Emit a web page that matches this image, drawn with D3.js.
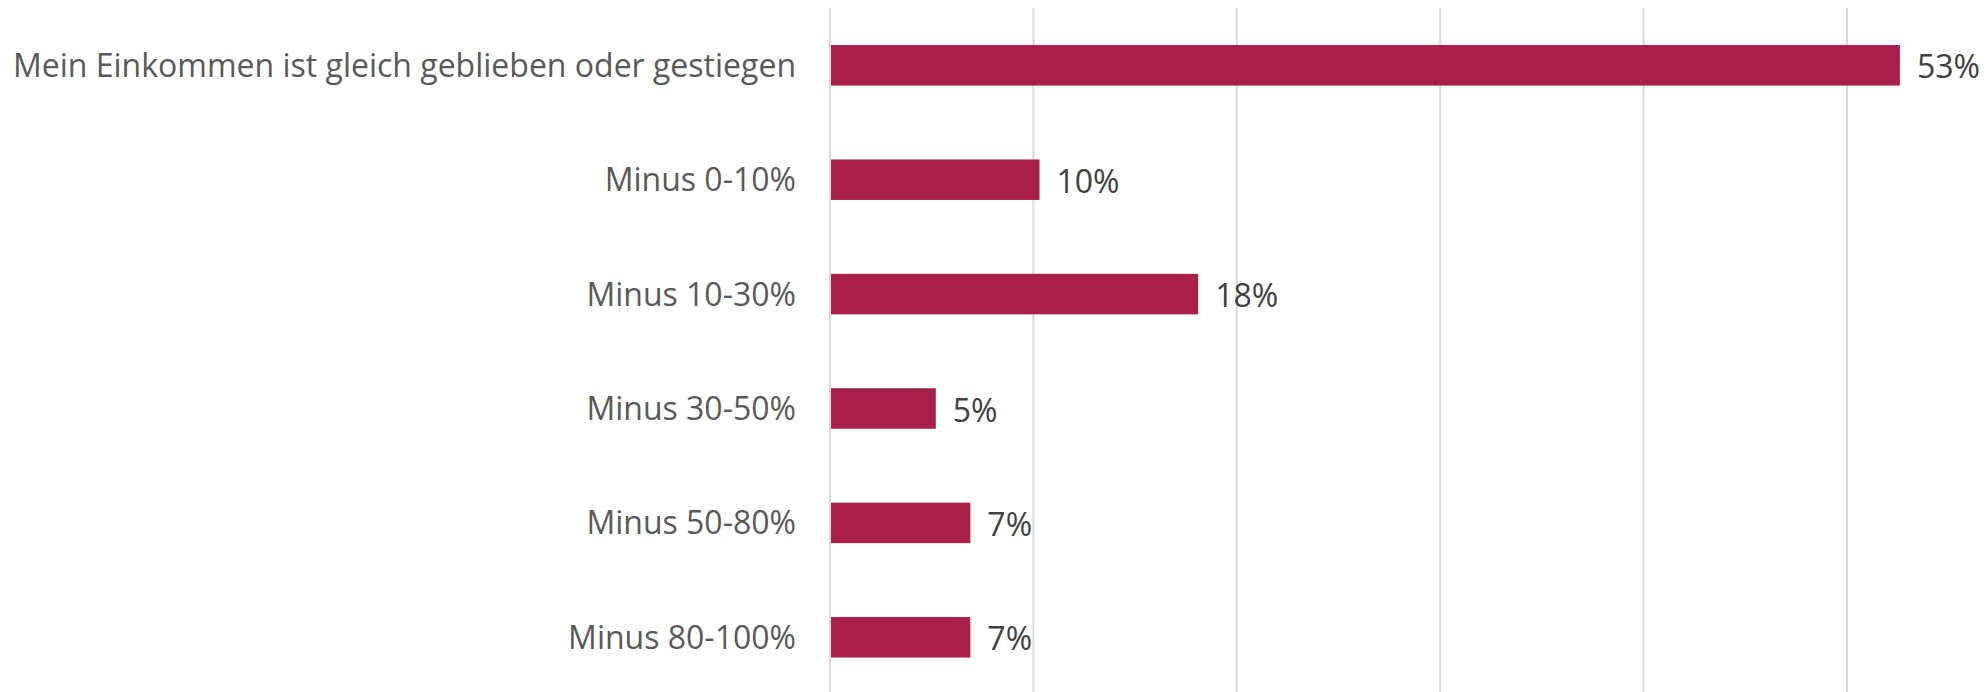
<!DOCTYPE html>
<html>
<head>
<meta charset="utf-8">
<script src="https://cdn.jsdelivr.net/npm/d3@7"></script>
<style>
  html, body { margin: 0; padding: 0; background: #ffffff; }
  svg { display: block; }
</style>
</head>
<body>
<svg id="chart" width="1988" height="692"></svg>
<script>
const categories = [
  "Mein Einkommen ist gleich geblieben oder gestiegen",
  "Minus 0-10%",
  "Minus 10-30%",
  "Minus 30-50%",
  "Minus 50-80%",
  "Minus 80-100%"
];
const values = [52.6, 10.3, 18.1, 5.2, 6.9, 6.9];
const valueLabels = ["53%", "10%", "18%", "5%", "7%", "7%"];
const gridTicks = [0, 10, 20, 30, 40, 50];

const svg = d3.select("#chart");
const x = d3.scaleLinear().domain([0, 50]).range([830, 1847]);
const y = d3.scaleBand().domain(categories).range([8.1, 694.5])
  .paddingInner(0.646).paddingOuter(0.323);

// gridlines
svg.append("g").selectAll("line").data(gridTicks).join("line")
  .attr("x1", d => x(d)).attr("x2", d => x(d))
  .attr("y1", 8).attr("y2", 692)
  .attr("stroke", "#d9d9d9").attr("stroke-width", 2);

// bars
svg.append("g").selectAll("rect").data(values).join("rect")
  .attr("x", x(0) + 1)
  .attr("y", (d, i) => y(categories[i]))
  .attr("width", d => x(d) - x(0) - 1)
  .attr("height", y.bandwidth())
  .attr("fill", "#a8204a");

// category labels
svg.append("g").selectAll("text").data(categories).join("text")
  .attr("x", 796)
  .attr("y", d => y(d) + y.bandwidth() / 2)
  .attr("dy", "0.36em")
  .attr("text-anchor", "end")
  .attr("font-family", "'Open Sans', sans-serif")
  .attr("font-size", 32)
  .attr("fill", "#595959")
  .text(d => d);

// value labels
svg.append("g").selectAll("text").data(values).join("text")
  .attr("x", d => x(d) + 17)
  .attr("y", (d, i) => y(categories[i]) + y.bandwidth() / 2)
  .attr("dy", "0.41em")
  .attr("font-family", "'Open Sans', sans-serif")
  .attr("font-size", 32)
  .attr("fill", "#404040")
  .text((d, i) => valueLabels[i]);
</script>
</body>
</html>
